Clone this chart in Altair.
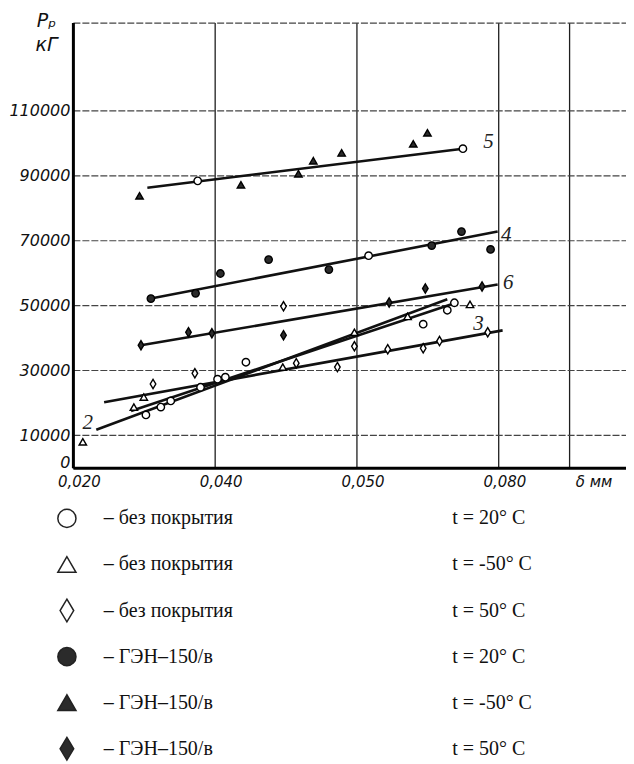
import altair as alt
import pandas as pd

# ---------------- data ----------------
series_keys = ["o20", "o-50", "o50", "f20", "f-50", "f50"]
coating_labels = ["– без покрытия", "– без покрытия", "– без покрытия",
                  "– ГЭН–150/в", "– ГЭН–150/в", "– ГЭН–150/в"]
temp_labels = ["t = 20° C", "t = -50° C", "t = 50° C",
               "t = 20° C", "t = -50° C", "t = 50° C"]

# без покрытия, t = 20° C (open circles)
o20_x = [0.0376, 0.0750, 0.0617, 0.0303, 0.0324, 0.0338, 0.0380, 0.0404, 0.0415, 0.0444, 0.0694, 0.0728, 0.0738]
o20_y = [88300, 98200, 65300, 16300, 18700, 20600, 24800, 27300, 27900, 32500, 44200, 48500, 50800]
# без покрытия, t = -50° C (open triangles)
om50_x = [0.0214, 0.0286, 0.0300, 0.0496, 0.0597, 0.0672, 0.0760]
om50_y = [8000, 18700, 21800, 31000, 41700, 46600, 50300]
# без покрытия, t = 50° C (open diamonds)
o50_x = [0.0313, 0.0372, 0.0497, 0.0515, 0.0573, 0.0597, 0.0644, 0.0694, 0.0717, 0.0785]
o50_y = [25800, 29100, 49700, 32200, 31000, 37400, 36500, 36800, 39000, 41700]
# ГЭН-150/в, t = 20° C (filled circles)
f20_x = [0.0310, 0.0373, 0.0408, 0.0476, 0.0561, 0.0706, 0.0748, 0.0789]
f20_y = [52100, 53700, 59800, 64100, 61000, 68400, 72700, 67200]
# ГЭН-150/в, t = -50° C (filled triangles)
fm50_x = [0.0294, 0.0437, 0.0518, 0.0539, 0.0579, 0.0680, 0.0700]
fm50_y = [83700, 87100, 90500, 94500, 96900, 99700, 103100]
# ГЭН-150/в, t = 50° C (filled diamonds)
f50_x = [0.0296, 0.0363, 0.0396, 0.0497, 0.0646, 0.0697, 0.0777]
f50_y = [37700, 41700, 41400, 40800, 50900, 55200, 55800]

# fitted lines (start / end)
line_ids = ["5", "4", "6", "3", "2a", "2b"]
line_x0 = [0.0305, 0.0310, 0.0296, 0.0244, 0.0233, 0.0282]
line_y0 = [86200, 52100, 37700, 20200, 11700, 17500]
line_x1 = [0.0750, 0.0799, 0.0799, 0.0806, 0.0728, 0.0735]
line_y1 = [98200, 72700, 56400, 42300, 51900, 50400]

# curve numbers
num_text = ["5", "4", "6", "3", "2"]
num_x = [0.0786, 0.0811, 0.0814, 0.0772, 0.0221]
num_y = [100200, 71600, 56800, 44200, 13800]

x_ticks = [0.02, 0.04, 0.06, 0.08, 0.09]
y_ticks = [0, 10000, 30000, 50000, 70000, 90000, 110000, 137000]

# ---------------- tables ----------------
pts = []
for key, xs, ys in zip(series_keys,
                       [o20_x, om50_x, o50_x, f20_x, fm50_x, f50_x],
                       [o20_y, om50_y, o50_y, f20_y, fm50_y, f50_y]):
    for a, b in zip(xs, ys):
        pts.append({"series": key, "x": a, "y": b})
pts = pd.DataFrame(pts)

lines = []
for lid, a0, b0, a1, b1 in zip(line_ids, line_x0, line_y0, line_x1, line_y1):
    lines.append({"line": lid, "x": a0, "y": b0})
    lines.append({"line": lid, "x": a1, "y": b1})
lines = pd.DataFrame(lines)

nums = pd.DataFrame({"t": num_text, "x": num_x, "y": num_y})

leg = pd.DataFrame({"series": series_keys, "row": list(range(6)),
                    "coat": coating_labels, "temp": temp_labels})

DIAMOND = "M0,-1.25L0.75,0L0,1.25L-0.75,0Z"
shape_scale = alt.Scale(domain=series_keys,
                        range=["circle", "triangle-up", DIAMOND, "circle", "triangle-up", DIAMOND])
fill_scale = alt.Scale(domain=series_keys,
                       range=["white", "white", "white", "#2b2b2b", "#2b2b2b", "#2b2b2b"])

xscale = alt.Scale(domain=[0.02, 0.098], nice=False, zero=False)
yscale = alt.Scale(domain=[0, 137000], nice=False, zero=False)

x_label_expr = ("datum.value < 0.03 ? '0,020' : datum.value < 0.05 ? '0,040' : "
                "datum.value < 0.07 ? '0,050' : datum.value < 0.085 ? '0,080' : 'δ мм'")
y_label_expr = "datum.value > 130000 ? '' : format(datum.value, 'd')"

x_enc = alt.X("x:Q", scale=xscale, axis=alt.Axis(
    values=x_ticks, labelExpr=x_label_expr, title=None, ticks=False,
    grid=True, gridColor="#1e1e1e", gridWidth=1.3,
    domainColor="black", domainWidth=3,
    labelFont="DejaVu Sans", labelFontStyle="italic", labelFontSize=15,
    labelColor="#111", labelPadding=7, labelOffset=6,
    labelAlign={"condition": {"test": "datum.value > 0.085", "value": "left"}, "value": "center"},
))
y_enc = alt.Y("y:Q", scale=yscale, axis=alt.Axis(
    values=y_ticks, labelExpr=y_label_expr, ticks=False,
    grid=True, gridColor="#444", gridWidth=1.2, gridDash=[7, 2],
    domainColor="black", domainWidth=3,
    labelFont="DejaVu Sans", labelFontStyle="italic", labelFontSize=16,
    labelColor="#111", labelPadding=3,
    labelBaseline={"condition": {"test": "datum.value == 0", "value": "alphabetic"}, "value": "middle"},
    title=["Pₚ", "кГ"], titleAngle=0, titleX=-27, titleY=-11,
    titleAlign="center", titleBaseline="top", titleFont="DejaVu Sans",
    titleFontStyle="italic", titleFontWeight="normal", titleFontSize=19,
    titleLineHeight=24, titleColor="#111",
))

line_layer = alt.Chart(lines).mark_line(color="#111").encode(
    x=x_enc, y=y_enc, detail="line:N",
    strokeWidth=alt.StrokeWidth("line:N", legend=None,
                                scale=alt.Scale(domain=line_ids, range=[2.6, 2.6, 2.6, 1.8, 2.0, 1.2])),
)

point_layer = alt.Chart(pts).mark_point(filled=True, size=55, stroke="black",
                                        strokeWidth=1.4, opacity=1).encode(
    x="x:Q", y="y:Q",
    shape=alt.Shape("series:N", scale=shape_scale, legend=None),
    fill=alt.Fill("series:N", scale=fill_scale, legend=None),
)

num_layer = alt.Chart(nums).mark_text(font="Liberation Serif", fontStyle="italic",
                                      fontSize=21, color="#222").encode(
    x="x:Q", y="y:Q", text="t:N")

main = alt.layer(line_layer, point_layer, num_layer).properties(width=554, height=446)

row_enc = alt.Y("row:O", axis=None, scale=alt.Scale(type="point", padding=0.1))
leg_sym = alt.Chart(leg).mark_point(filled=True, size=330, stroke="#222",
                                    strokeWidth=1.5, opacity=1).encode(
    y=row_enc, x=alt.value(-6),
    shape=alt.Shape("series:N", scale=shape_scale, legend=None),
    fill=alt.Fill("series:N", scale=fill_scale, legend=None),
)
leg_coat = alt.Chart(leg).mark_text(align="left", font="Liberation Serif", fontSize=20,
                                    color="#111").encode(y=row_enc, x=alt.value(31), text="coat:N")
leg_temp = alt.Chart(leg).mark_text(align="left", font="Liberation Serif", fontSize=20,
                                    color="#111").encode(y=row_enc, x=alt.value(380), text="temp:N")
legend_panel = alt.layer(leg_sym, leg_coat, leg_temp).properties(width=554, height=240)

chart = alt.vconcat(main, legend_panel, spacing=16).properties(
    padding={"left": 0, "top": 3, "right": 0, "bottom": 0},
    background="white",
).configure_view(stroke="transparent", strokeWidth=0)

chart.save("out.html", embed_options={"renderer": "svg", "actions": False})
